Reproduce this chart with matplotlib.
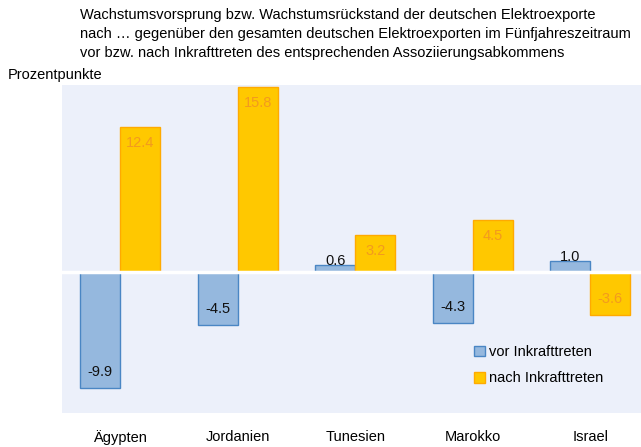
import numpy as np
import matplotlib.pyplot as plt

plt.rcParams['font.family'] = ['Liberation Sans', 'DejaVu Sans']

laender = ['Ägypten', 'Jordanien', 'Tunesien', 'Marokko', 'Israel']
vor = [-9.9, -4.5, 0.6, -4.3, 1.0]
nach = [12.4, 15.8, 3.2, 4.5, -3.6]

titel = ("Wachstumsvorsprung bzw. Wachstumsrückstand der deutschen Elektroexporte\n"
         "nach … gegenüber den gesamten deutschen Elektroexporten im Fünfjahreszeitraum\n"
         "vor bzw. nach Inkrafttreten des entsprechenden Assoziierungsabkommens")

blau = '#95B8DE'
blau_rand = '#4A86C4'
gelb = '#FFC800'
gelb_rand = '#FFAA00'
orange = '#F39A1E'

fig = plt.figure(figsize=(6.41, 4.47), dpi=100)
ax = fig.add_axes([61.5 / 641, 34 / 447, 587.5 / 641, 328 / 447])
ax.set_facecolor('#ECF0FA')

x = np.arange(len(laender))
b = 0.34
ax.bar(x - b / 2, vor, b, color=blau, edgecolor=blau_rand, linewidth=1,
       label='vor Inkrafttreten', zorder=2)
ax.bar(x + b / 2, nach, b, color=gelb, edgecolor=gelb_rand, linewidth=1,
       label='nach Inkrafttreten', zorder=2)

ax.axhline(0, color='white', linewidth=2.5, zorder=3)

# Beschriftungen: innen am Ende, kleine Balken darüber
for xi, v in zip(x - b / 2, vor):
    if abs(v) < 2:
        off = 3
    else:
        off = -11.5 if v > 0 else 11.5
    ax.annotate(f'{v:.1f}', (xi, v), xytext=(0, off), textcoords='offset points',
                ha='center', va='center', fontsize=10.5, color='#111111', zorder=4)
for xi, v in zip(x + b / 2, nach):
    off = -11.5 if v > 0 else 11.5
    ax.annotate(f'{v:.1f}', (xi, v), xytext=(0, off), textcoords='offset points',
                ha='center', va='center', fontsize=10.5, color=orange, zorder=4)

ax.set_xlim(-0.5, 4.5)
ax.set_ylim(-12, 16)
ax.set_xticks(x)
ax.set_xticklabels(laender, fontsize=10.5)
ax.tick_params(axis='x', length=0, pad=12)
ax.set_yticks([])
for s in ax.spines.values():
    s.set_visible(False)

ax.legend(loc='upper left', bbox_to_anchor=(407 / 587.5, 0.225), frameon=False,
          fontsize=10.5, handlelength=0.75, handleheight=0.75, handletextpad=0.25,
          labelspacing=0.85, borderaxespad=0)

fig.text(80 / 641, 1 - 8 / 447, titel, ha='left', va='top', fontsize=10.5,
         linespacing=1.45)
fig.text(8 / 641, 1 - 75 / 447, 'Prozentpunkte', ha='left', va='center', fontsize=10.5)

fig.savefig('out.png', dpi=100)
